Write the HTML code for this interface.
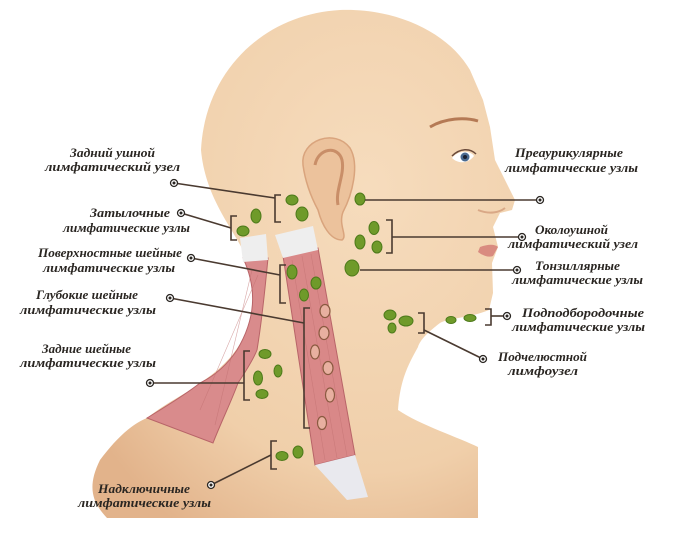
<!DOCTYPE html>
<html><head><meta charset="utf-8"><style>
html,body{margin:0;padding:0;background:#fff;width:696px;height:535px;overflow:hidden}
svg{display:block}
text{font-family:"Liberation Serif",serif;font-style:italic;font-weight:bold;font-size:12.5px;fill:#2a2622}
</style></head><body>
<svg width="696" height="535" viewBox="0 0 696 535" xmlns="http://www.w3.org/2000/svg">
<defs>
<radialGradient id="sk" cx="0.65" cy="0.35" r="0.8">
<stop offset="0" stop-color="#f6dcbd"/><stop offset="0.7" stop-color="#f0cfaa"/><stop offset="1" stop-color="#e2b38b"/>
</radialGradient>
</defs>
<!-- body -->
<path d="M243,250 C230,225 205,195 201,150 C205,70 265,14 340,10 C400,8 450,35 470,70 L483,100 L490,127 L495,160 L515,200 L512,210 L500,213 L493,227 L498,247 L492,263 L493,293 L489,310 C470,318 448,318 440,323 C428,332 420,340 418,347 C408,365 400,380 398,410 C420,425 460,438 478,447 L478,518 L107,518 C95,505 85,490 100,460 C115,440 130,425 147,418 C170,400 190,392 200,383 C220,370 235,355 245,335 C255,315 258,300 255,285 Z" fill="url(#sk)"/>
<!-- brow, eye, nose shading, lips -->
<path d="M430,127 C445,118 465,117 478,121" stroke="#b57a55" stroke-width="3" fill="none"/>
<path d="M452,158 C458,150 470,150 474,156 C468,164 458,164 452,158Z" fill="#fff"/>
<circle cx="465" cy="157" r="4.5" fill="#4a6a90"/>
<circle cx="465" cy="157" r="2" fill="#1a2030"/>
<path d="M452,156 C460,148 470,148 476,154" stroke="#6a4a3a" stroke-width="1.5" fill="none"/>
<path d="M480,247 C488,244 495,244 498,247 L493,256 C488,258 482,255 478,252Z" fill="#d98b80"/>
<path d="M478,210 C490,215 500,212 505,208" stroke="#d9a886" stroke-width="2" fill="none"/>
<!-- ear -->
<path d="M303,165 C300,140 335,128 350,148 C360,165 352,195 343,212 C338,225 348,236 342,240 C330,240 322,225 318,210 C310,195 305,180 303,165Z" fill="#ecc29c" stroke="#d9a47d" stroke-width="1.5"/>
<path d="M315,165 C318,148 338,145 342,160 C345,175 335,190 338,205" stroke="#c98e68" stroke-width="3" fill="none"/>
<!-- trapezius -->
<path d="M243,258 C258,290 255,320 237,350 C225,368 210,378 200,383 C185,395 160,410 147,418 L213,443 C222,420 232,400 238,383 C250,365 255,355 257,350 C262,320 265,290 268,258Z" fill="#d98b8c" stroke="#b86468" stroke-width="1"/>
<path d="M240,238 L266,234 L268,260 L243,262Z" fill="#eeeeee"/>
<!-- SCM -->
<path d="M283,256 L318,248 L355,455 L315,465Z" fill="#d98888" stroke="#b86468" stroke-width="1"/>
<path d="M275,235 L313,226 L318,250 L283,258Z" fill="#eeeeee"/>
<path d="M315,465 L355,455 L368,497 L347,500Z" fill="#e9e9ee"/>
<g stroke="#c07070" stroke-width="0.6" opacity="0.6">
<line x1="292" y1="260" x2="325" y2="460"/><line x1="302" y1="256" x2="337" y2="458"/><line x1="311" y1="254" x2="347" y2="456"/>
<line x1="252" y1="270" x2="215" y2="425"/><line x1="258" y1="275" x2="200" y2="410"/>
</g>
<!-- deep cervical outlines -->
<g fill="#e8b0a0" stroke="#8a5a40" stroke-width="1.2">
<ellipse cx="325" cy="311" rx="5" ry="6.5"/><ellipse cx="324" cy="333" rx="5" ry="6.5"/>
<ellipse cx="315" cy="352" rx="4.5" ry="7"/><ellipse cx="328" cy="368" rx="5" ry="6.5"/>
<ellipse cx="330" cy="395" rx="4.5" ry="7"/><ellipse cx="322" cy="423" rx="4.5" ry="6.5"/>
</g>
<!-- green nodes -->
<g fill="#6f9a2a" stroke="#4d7a1a" stroke-width="1">
<ellipse cx="292" cy="200" rx="6" ry="5"/><ellipse cx="302" cy="214" rx="6" ry="7"/>
<ellipse cx="243" cy="231" rx="6" ry="5"/><ellipse cx="256" cy="216" rx="5" ry="7"/>
<ellipse cx="360" cy="199" rx="5" ry="6"/>
<ellipse cx="374" cy="228" rx="5" ry="6.5"/><ellipse cx="360" cy="242" rx="5" ry="7"/><ellipse cx="377" cy="247" rx="5" ry="6"/>
<ellipse cx="352" cy="268" rx="7" ry="8"/>
<ellipse cx="292" cy="272" rx="5" ry="7"/><ellipse cx="316" cy="283" rx="5" ry="6"/><ellipse cx="304" cy="295" rx="4.5" ry="6"/>
<ellipse cx="265" cy="354" rx="6" ry="4.5"/><ellipse cx="258" cy="378" rx="4.5" ry="7"/><ellipse cx="278" cy="371" rx="4" ry="6"/><ellipse cx="262" cy="394" rx="6" ry="4.5"/>
<ellipse cx="282" cy="456" rx="6" ry="4.5"/><ellipse cx="298" cy="452" rx="5" ry="6"/>
<ellipse cx="390" cy="315" rx="6" ry="5"/><ellipse cx="406" cy="321" rx="7" ry="5"/><ellipse cx="392" cy="328" rx="4" ry="5"/>
<ellipse cx="451" cy="320" rx="5" ry="3.5"/><ellipse cx="470" cy="318" rx="6" ry="3.5"/>
</g>
<!-- connectors -->
<g stroke="#4a3a30" stroke-width="1.6" fill="none">
<path d="M174,183 L275,198"/><path d="M281,195 L275,195 L275,222 L281,222"/>
<path d="M181,213 L231,228"/><path d="M237,216 L231,216 L231,240 L237,240"/>
<path d="M191,258 L280,275"/><path d="M286,265 L280,265 L280,303 L286,303"/>
<path d="M170,298 L304,323"/><path d="M310,308 L304,308 L304,428 L310,428"/>
<path d="M150,383 L244,383"/><path d="M250,351 L244,351 L244,400 L250,400"/>
<path d="M211,485 L271,455"/><path d="M277,441 L271,441 L271,469 L277,469"/>
<path d="M365,200 L540,200"/>
<path d="M386,220 L392,220 L392,253 L386,253"/><path d="M392,237 L522,237"/>
<path d="M360,270 L517,270"/>
<path d="M418,313 L424,313 L424,333 L418,333"/><path d="M424,330 L483,359"/>
<path d="M485,309 L491,309 L491,325 L485,325"/><path d="M491,316 L507,316"/>
</g>
<g fill="#fff" stroke="#2a2622" stroke-width="1.3">
<circle cx="174" cy="183" r="3.5"/><circle cx="181" cy="213" r="3.5"/><circle cx="191" cy="258" r="3.5"/>
<circle cx="170" cy="298" r="3.5"/><circle cx="150" cy="383" r="3.5"/><circle cx="211" cy="485" r="3.5"/>
<circle cx="540" cy="200" r="3.5"/><circle cx="522" cy="237" r="3.5"/><circle cx="517" cy="270" r="3.5"/>
<circle cx="483" cy="359" r="3.5"/><circle cx="507" cy="316" r="3.5"/>
</g>
<g fill="#2a2622"><circle cx="174" cy="183" r="1.5"/><circle cx="181" cy="213" r="1.5"/><circle cx="191" cy="258" r="1.5"/><circle cx="170" cy="298" r="1.5"/><circle cx="150" cy="383" r="1.5"/><circle cx="211" cy="485" r="1.5"/><circle cx="540" cy="200" r="1.5"/><circle cx="522" cy="237" r="1.5"/><circle cx="517" cy="270" r="1.5"/><circle cx="483" cy="359" r="1.5"/><circle cx="507" cy="316" r="1.5"/></g>
<!-- labels -->
<text x="70" y="157" textLength="85" lengthAdjust="spacingAndGlyphs">Задний ушной</text>
<text x="45" y="171" textLength="135" lengthAdjust="spacingAndGlyphs">лимфатический узел</text>
<text x="90" y="217" textLength="80" lengthAdjust="spacingAndGlyphs">Затылочные</text>
<text x="63" y="232" textLength="127" lengthAdjust="spacingAndGlyphs">лимфатические узлы</text>
<text x="38" y="257" textLength="144" lengthAdjust="spacingAndGlyphs">Поверхностные шейные</text>
<text x="43" y="272" textLength="132" lengthAdjust="spacingAndGlyphs">лимфатические узлы</text>
<text x="36" y="299" textLength="102" lengthAdjust="spacingAndGlyphs">Глубокие шейные</text>
<text x="20" y="314" textLength="136" lengthAdjust="spacingAndGlyphs">лимфатические узлы</text>
<text x="42" y="353" textLength="89" lengthAdjust="spacingAndGlyphs">Задние шейные</text>
<text x="20" y="367" textLength="136" lengthAdjust="spacingAndGlyphs">лимфатические узлы</text>
<text x="98" y="493" textLength="92" lengthAdjust="spacingAndGlyphs">Надключичные</text>
<text x="78" y="507" textLength="133" lengthAdjust="spacingAndGlyphs">лимфатические узлы</text>
<text x="515" y="157" textLength="108" lengthAdjust="spacingAndGlyphs">Преаурикулярные</text>
<text x="505" y="172" textLength="133" lengthAdjust="spacingAndGlyphs">лимфатические узлы</text>
<text x="535" y="234" textLength="73" lengthAdjust="spacingAndGlyphs">Околоушной</text>
<text x="508" y="248" textLength="130" lengthAdjust="spacingAndGlyphs">лимфатический узел</text>
<text x="535" y="270" textLength="85" lengthAdjust="spacingAndGlyphs">Тонзиллярные</text>
<text x="512" y="284" textLength="131" lengthAdjust="spacingAndGlyphs">лимфатические узлы</text>
<text x="522" y="317" textLength="122" lengthAdjust="spacingAndGlyphs">Подподбородочные</text>
<text x="512" y="331" textLength="133" lengthAdjust="spacingAndGlyphs">лимфатические узлы</text>
<text x="498" y="361" textLength="89" lengthAdjust="spacingAndGlyphs">Подчелюстной</text>
<text x="508" y="375" textLength="70" lengthAdjust="spacingAndGlyphs">лимфоузел</text>
</svg>
</body></html>
